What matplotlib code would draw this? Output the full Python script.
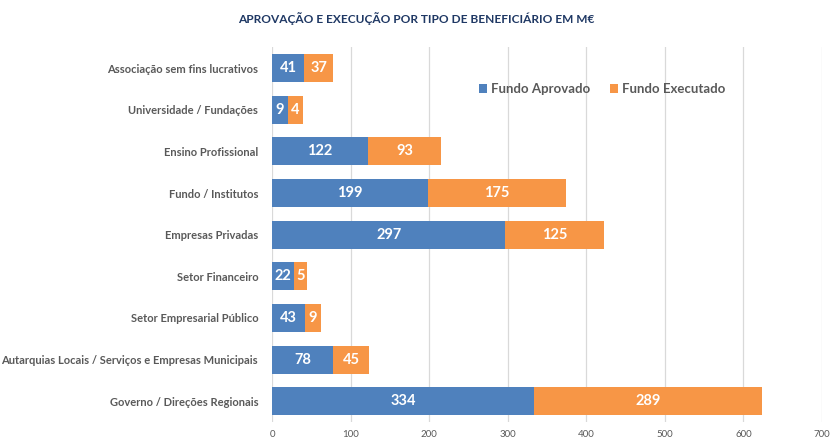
import matplotlib
matplotlib.use("Agg")
import matplotlib.pyplot as plt
import numpy as np

plt.rcParams['font.family'] = ['Lato', 'DejaVu Sans']

# dados (M€), de baixo para cima no gráfico
categorias = [
    "Governo / Direções Regionais",
    "Autarquias Locais / Serviços e Empresas Municipais",
    "Setor Empresarial Público",
    "Setor Financeiro",
    "Empresas Privadas",
    "Fundo / Institutos",
    "Ensino Profissional",
    "Universidade / Fundações",
    "Associação sem fins lucrativos",
]
aprovado = [334, 78, 43, 22, 297, 199, 122, 9, 41]
executado = [289, 45, 9, 5, 125, 175, 93, 4, 37]
# comprimento desenhado das barras no original (as pequenas foram alargadas
# para caberem os rótulos)
barra_aprovado = [334, 78, 42, 28, 297, 199, 122, 20, 41]
barra_executado = [289, 45, 20, 17, 125, 175, 93, 20, 37]
xticks = [0, 100, 200, 300, 400, 500, 600, 700]

azul = "#4F81BD"
laranja = "#F79646"
cinza = "#595959"

fig = plt.figure(figsize=(8.32, 4.37), dpi=100)
ax = fig.add_axes([0.327, 0.034, 0.661, 0.858])

y = np.arange(len(categorias))
b1 = ax.barh(y, barra_aprovado, height=0.67, color=azul,
             label="Fundo Aprovado", zorder=3)
b2 = ax.barh(y, barra_executado, left=barra_aprovado, height=0.67,
             color=laranja, label="Fundo Executado", zorder=3)

ax.bar_label(b1, labels=[str(v) for v in aprovado], label_type="center",
             color="white", fontsize=10.5, fontweight="bold")
ax.bar_label(b2, labels=[str(v) for v in executado], label_type="center",
             color="white", fontsize=10.5, fontweight="bold")

ax.set_xlim(0, 700)
ax.set_ylim(-0.5, len(categorias) - 0.5)
ax.set_xticks(xticks)
ax.set_yticks(y)
ax.set_yticklabels(categorias, fontsize=8, fontweight="bold", color=cinza)
ax.tick_params(axis="x", length=0, pad=6, labelsize=7, labelcolor=cinza)
ax.tick_params(axis="y", length=0, pad=10)
ax.grid(axis="x", color="#D9D9D9", linewidth=0.9, zorder=0)
for s in ax.spines.values():
    s.set_visible(False)

ax.legend(loc="center", bbox_to_anchor=(0.6, 0.888), ncol=2, frameon=False,
          handlelength=0.6, handleheight=0.6, handletextpad=0.3,
          columnspacing=1.5, labelcolor=cinza,
          prop={'weight': 'bold', 'size': 9.5})

fig.text(0.5, 0.957, "APROVAÇÃO E EXECUÇÃO POR TIPO DE BENEFICIÁRIO EM M€",
         ha="center", va="center", fontsize=8.6, fontweight="bold",
         color="#1F3864")

fig.savefig("out.png", dpi=100)
